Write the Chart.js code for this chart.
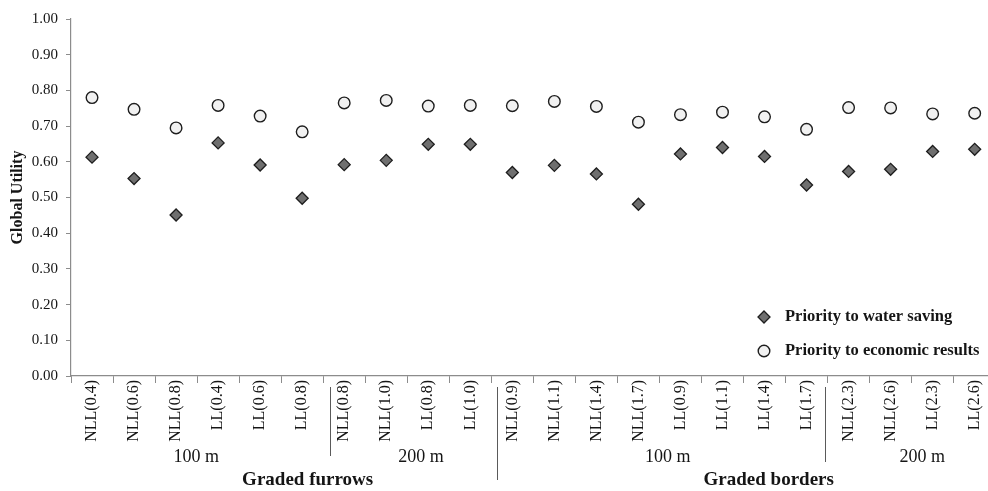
<!DOCTYPE html>
<html>
<head>
<meta charset="utf-8">
<script src="https://cdn.jsdelivr.net/npm/chart.js@4/dist/chart.umd.min.js"></script>
<style>
  html, body { margin: 0; padding: 0; background: #fff; overflow: hidden; }
  #wrap { position: relative; width: 1003px; height: 491px; overflow: hidden; }
  #chart { display: block; }
</style>
</head>
<body>
<div id="wrap"><canvas id="chart" width="1003" height="491"></canvas></div>
<script>
// Irrigation scenarios (field length / design option)
const categories = [
  'NLL(0.4)', 'NLL(0.6)', 'NLL(0.8)', 'LL(0.4)', 'LL(0.6)', 'LL(0.8)',
  'NLL(0.8)', 'NLL(1.0)', 'LL(0.8)', 'LL(1.0)',
  'NLL(0.9)', 'NLL(1.1)', 'NLL(1.4)', 'NLL(1.7)', 'LL(0.9)', 'LL(1.1)', 'LL(1.4)', 'LL(1.7)',
  'NLL(2.3)', 'NLL(2.6)', 'LL(2.3)', 'LL(2.6)'
];

// Global utility by priority scenario
const waterSaving = [
  0.613, 0.553, 0.451, 0.653, 0.591, 0.498,
  0.592, 0.604, 0.649, 0.649,
  0.570, 0.590, 0.566, 0.481, 0.622, 0.640, 0.615, 0.535,
  0.573, 0.579, 0.629, 0.635
];
const economicResults = [
  0.780, 0.747, 0.695, 0.758, 0.728, 0.684,
  0.765, 0.772, 0.756, 0.758,
  0.757, 0.769, 0.755, 0.711, 0.732, 0.739, 0.726, 0.691,
  0.752, 0.751, 0.734, 0.736
];

const seriesNames = ['Priority to water saving', 'Priority to economic results'];
const yTickValues = [0, 0.1, 0.2, 0.3, 0.4, 0.5, 0.6, 0.7, 0.8, 0.9, 1.0];

// Field length and irrigation system group captions
const lengthGroups = ['100 m', '200 m', '100 m', '200 m'];
const systemGroups = ['Graded furrows', 'Graded borders'];

const SERIF = '"Liberation Serif", "Times New Roman", serif';
const AXIS_GRAY = '#8c8c8c';
const TEXT = '#151515';

// Draws the group captions, separators and the in-plot legend
const groupPlugin = {
  id: 'groups',
  afterDraw(chart) {
    const ctx = chart.ctx;
    const x = chart.scales.x;
    const px = v => x.getPixelForValue(v);

    ctx.save();
    // separators between groups
    ctx.strokeStyle = '#5a5a5a';
    ctx.lineWidth = 1;
    const seps = [[5.67, 387, 456], [9.64, 387, 480], [17.45, 387, 462]];
    seps.forEach(([v, y0, y1]) => {
      const xx = Math.round(px(v)) + 0.5;
      ctx.beginPath();
      ctx.moveTo(xx, y0);
      ctx.lineTo(xx, y1);
      ctx.stroke();
    });

    ctx.fillStyle = TEXT;
    ctx.textAlign = 'center';
    ctx.textBaseline = 'middle';
    ctx.font = '18px ' + SERIF;
    const lengthPos = [2.48, 7.83, 13.7, 19.75];
    lengthGroups.forEach((t, i) => ctx.fillText(t, px(lengthPos[i]), 457));

    ctx.font = 'bold 19px ' + SERIF;
    const systemPos = [5.13, 16.1];
    systemGroups.forEach((t, i) => ctx.fillText(t, px(systemPos[i]), 480));

    // legend
    const ds = chart.data.datasets;
    const lx = 764, ly = [317, 351];
    ds.forEach((d, i) => {
      ctx.beginPath();
      const r = d.pointRadius;
      if (d.pointStyle === 'rectRot') {
        ctx.moveTo(lx, ly[i] - r);
        ctx.lineTo(lx + r, ly[i]);
        ctx.lineTo(lx, ly[i] + r);
        ctx.lineTo(lx - r, ly[i]);
        ctx.closePath();
      } else {
        ctx.arc(lx, ly[i], r, 0, Math.PI * 2);
      }
      ctx.fillStyle = d.pointBackgroundColor;
      ctx.fill();
      ctx.lineWidth = d.pointBorderWidth;
      ctx.strokeStyle = d.pointBorderColor;
      ctx.stroke();
      ctx.fillStyle = TEXT;
      ctx.font = 'bold 16.5px ' + SERIF;
      ctx.textAlign = 'left';
      ctx.fillText(d.label, 785, ly[i]);
    });
    ctx.restore();
  }
};

new Chart(document.getElementById('chart'), {
  type: 'line',
  data: {
    labels: categories,
    datasets: [
      {
        label: seriesNames[0],
        data: waterSaving,
        showLine: false,
        pointStyle: 'rectRot',
        pointRadius: 6,
        pointBackgroundColor: '#6f6f6f',
        pointBorderColor: '#1e1e1e',
        pointBorderWidth: 1.3
      },
      {
        label: seriesNames[1],
        data: economicResults,
        showLine: false,
        pointStyle: 'circle',
        pointRadius: 5.8,
        pointBackgroundColor: '#f1f1f1',
        pointBorderColor: '#1e1e1e',
        pointBorderWidth: 1.4
      }
    ]
  },
  options: {
    responsive: false,
    animation: false,
    layout: { padding: { top: 19, right: 0, left: 0, bottom: 0 } },
    plugins: { legend: { display: false }, tooltip: { enabled: false } },
    scales: {
      x: {
        type: 'category',
        offset: true,
        grid: { offset: true, drawOnChartArea: false, tickLength: 7, color: AXIS_GRAY, lineWidth: 1 },
        border: { color: AXIS_GRAY, width: 1.2 },
        ticks: {
          autoSkip: false,
          minRotation: 90,
          maxRotation: 90,
          padding: -3,
          color: TEXT,
          font: { family: SERIF, size: 16 }
        },
        afterFit(scale) { scale.height = 115; }
      },
      y: {
        min: 0,
        max: 1,
        afterBuildTicks(scale) { scale.ticks = yTickValues.map(v => ({ value: v })); },
        grid: { drawOnChartArea: false, tickLength: 5, color: AXIS_GRAY, lineWidth: 1 },
        border: { color: AXIS_GRAY, width: 1.2 },
        ticks: {
          padding: 8,
          color: TEXT,
          font: { family: SERIF, size: 15 },
          callback: v => Number(v).toFixed(2)
        },
        title: {
          display: true,
          text: 'Global Utility',
          color: TEXT,
          font: { family: SERIF, size: 16, weight: 'bold' },
          padding: { top: 8, bottom: 0 }
        },
        afterFit(scale) { scale.width = 71; }
      }
    }
  },
  plugins: [groupPlugin]
});
</script>
</body>
</html>
